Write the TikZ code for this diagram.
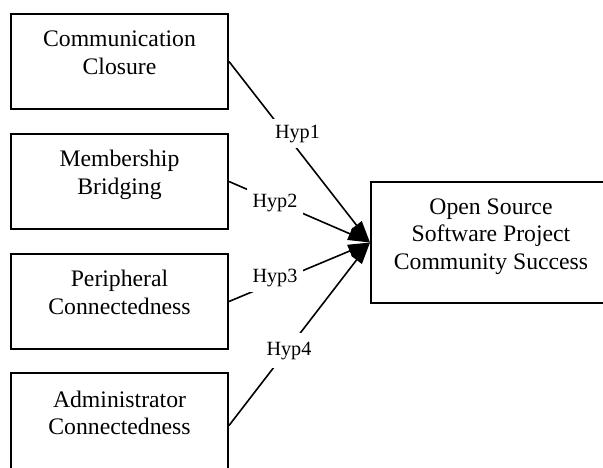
\documentclass[tikz,border=0pt]{standalone}
\usepackage{fontspec}
\setmainfont{Liberation Serif}
\usetikzlibrary{arrows.meta}
\begin{document}
\begin{tikzpicture}[x=1pt,y=-1pt,
  box/.style={draw, line width=2pt, minimum width=217pt, minimum height=95pt, inner sep=0pt},
  goalbox/.style={draw, line width=2pt, minimum width=240pt, minimum height=121pt, inner sep=0pt},
  boxtext/.style={align=center, font=\fontsize{23.7}{27.5}\selectfont, inner sep=0pt},
  conn/.style={line width=1.6pt, -{Triangle[length=22pt,width=13pt]}},
  hyp/.style={fill=white, font=\fontsize{20.2}{24}\selectfont, inner xsep=6pt, inner ysep=6pt, anchor=base}]
\useasboundingbox (0,0) rectangle (603,467);
\clip (0,0) rectangle (603,467);

% predictor boxes
\node[box] (b1) at (119.5,61.5) {};
\node[box] (b2) at (119.5,181.5) {};
\node[box] (b3) at (119.5,301.5) {};
\node[box, minimum height=100pt] (b4) at (119.5,423) {};
% outcome box
\node[goalbox] (goal) at (491,242.5) {};

\node[boxtext] (t1) at ([yshift=6.5pt]b1.center) {\strut Communication\\\strut Closure};
\node[boxtext] (t2) at ([yshift=6.5pt]b2.center) {\strut Membership\\\strut Bridging};
\node[boxtext] (t3) at ([yshift=6.5pt]b3.center) {\strut Peripheral\\\strut Connectedness};
\node[boxtext] (t4) at ([yshift=7.5pt]b4.center) {\strut Administrator\\\strut Connectedness};
\node[boxtext] (tg) at ([yshift=6.5pt]goal.center) {\strut Open Source\\Software Project\\\strut Community Success};

% hypothesised effects
\draw[conn] (b1.east) -- (goal.west);
\draw[conn] (b2.east) -- (goal.west);
\draw[conn] (b3.east) -- (goal.west);
\draw[conn] ([yshift=-2.5pt]b4.east) -- (goal.west);

\node[hyp] (h1) at (297.5,138) {Hyp1};
\node[hyp] (h2) at (275,207) {Hyp2};
\node[hyp] (h3) at (275,282) {Hyp3};
\node[hyp, inner ysep=9pt] (h4) at (289,355) {Hyp4};
\end{tikzpicture}
\end{document}
